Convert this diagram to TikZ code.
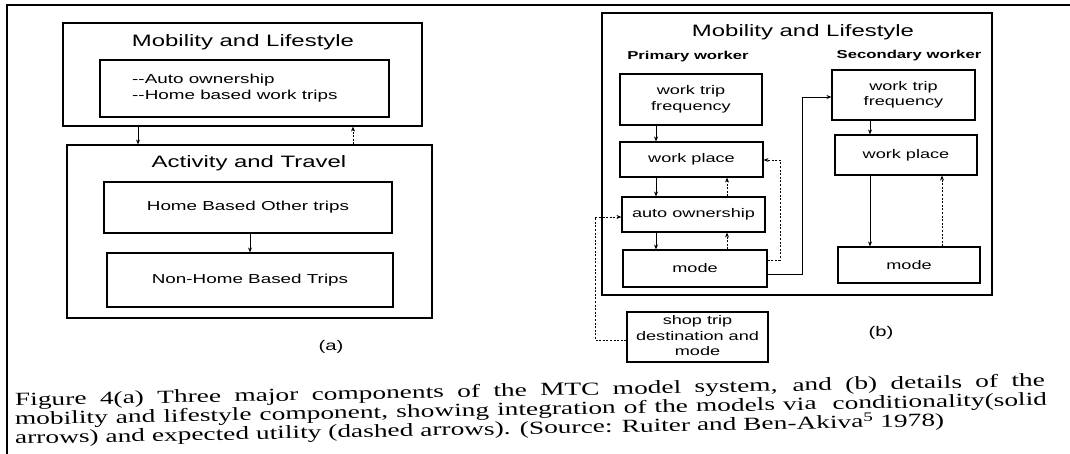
\documentclass[tikz,border=0pt]{standalone}
\usepackage{fontspec}
\setmainfont{Liberation Serif}[FakeStretch=1.48]
\newfontfamily\dsans{Liberation Sans}[FakeStretch=1.45]
\usetikzlibrary{arrows.meta}
\newcommand\tl[1]{\begin{tabular}{@{}c@{}}#1\end{tabular}}
\begin{document}
\begin{tikzpicture}[x=1pt,y=-1pt,
  box/.style={draw, line width=1.1pt, inner sep=0pt, align=center},
  ttl/.style={font=\dsans\fontsize{16.5}{18}\selectfont, inner sep=0pt},
  atxt/.style={font=\dsans\fontsize{13}{16}\selectfont, inner sep=0pt},
  btxt/.style={font=\dsans\fontsize{12.5}{15.5}\selectfont},
  wtxt/.style={font=\dsans\bfseries\fontsize{11.5}{14}\selectfont, inner sep=0pt},
  lbl/.style={font=\dsans\fontsize{14}{16}\selectfont, inner sep=0pt},
  captxt/.style={anchor=base west, inner sep=0pt, rotate=1.1, font=\fontsize{18.5}{19}\selectfont},
  cond/.style={line width=0.9pt, -{Stealth[length=5pt,width=4pt]}},
  util/.style={line width=0.9pt, dash pattern=on 2pt off 1.6pt, -{Stealth[length=5pt,width=4pt]}},
]
\useasboundingbox (0,0) rectangle (1070,454);
\draw[line width=1.6pt] (7,454) -- (7,5) -- (1070,5);

% ---------- (a) ----------
\node[box, minimum width=359pt, minimum height=103pt] (aML) at (242.5,74.5) {};
\node[ttl] (aMLt) at (243,42) {Mobility and Lifestyle};
\node[box, minimum width=289pt, minimum height=57pt] (aIn) at (244.5,88.5) {};
\node[atxt, anchor=west, align=left] (aInt) at (132,88) {--Auto ownership\\--Home based work trips};
\node[box, minimum width=365pt, minimum height=173pt] (aAT) at (249.5,231.5) {};
\node[ttl] (aATt) at (249,163) {Activity and Travel};
\node[box, minimum width=288pt, minimum height=51pt, atxt] (aHB) at (248,207.5) {Home Based Other trips};
\node[box, minimum width=286pt, minimum height=54pt, atxt] (aNH) at (250,280) {Non-Home Based Trips};
\node[lbl] (alab) at (331,347) {(a)};
\coordinate (ca1) at (138,0);
\coordinate (ca2) at (353,0);
\coordinate (ca3) at (250,0);
\draw[cond] (ca1 |- aML.south) -- (ca1 |- aAT.north);
\draw[util] (ca2 |- aAT.north) -- (ca2 |- aML.south);
\draw[cond] (ca3 |- aHB.south) -- (ca3 |- aNH.north);

% ---------- (b) ----------
\node[box, minimum width=390pt, minimum height=282pt] (bML) at (797,154) {};
\node[ttl] (bMLt) at (803,32) {Mobility and Lifestyle};
\node[wtxt] (pw) at (688,57) {Primary worker};
\node[wtxt] (sw) at (909,56) {Secondary worker};
\node[box, btxt, minimum width=142pt, minimum height=51pt] (pWTF) at (691,99.5) {\tl{work trip\\frequency}};
\node[box, btxt, minimum width=143pt, minimum height=35pt] (pWP) at (691.5,159.5) {work place};
\node[box, btxt, minimum width=143pt, minimum height=35pt] (pAO) at (693.5,214.5) {auto ownership};
\node[box, btxt, minimum width=144pt, minimum height=37pt] (pM) at (695,268.5) {mode};
\node[box, btxt, minimum width=143pt, minimum height=50pt] (sWTF) at (903.5,95) {\tl{work trip\\frequency}};
\node[box, btxt, minimum width=142pt, minimum height=40pt] (sWP) at (906,155) {work place};
\node[box, btxt, minimum width=142pt, minimum height=36pt] (sM) at (909,265) {mode};
\node[box, btxt, minimum width=141pt, minimum height=50pt] (shop) at (697.5,337) {\tl{shop trip\\destination and\\mode}};
\node[lbl] (blab) at (881,333) {(b)};

\coordinate (cb1) at (656,0);
\coordinate (cb2) at (727,0);
\coordinate (cb3) at (870,0);
\coordinate (cb4) at (942,0);
\draw[cond] (cb1 |- pWTF.south) -- (cb1 |- pWP.north);
\draw[cond] (cb1 |- pWP.south) -- (cb1 |- pAO.north);
\draw[util] (cb2 |- pAO.north) -- (cb2 |- pWP.south);
\draw[cond] (cb1 |- pAO.south) -- (cb1 |- pM.north);
\draw[util] (cb2 |- pM.north) -- (cb2 |- pAO.south);
\draw[cond] (cb3 |- sWTF.south) -- (cb3 |- sWP.north);
\draw[cond] (cb3 |- sWP.south) -- (cb3 |- sM.north);
\draw[util] (cb4 |- sM.north) -- (cb4 |- sWP.south);

\coordinate (d1) at (780,260);
\coordinate (d2) at (780,160);
\draw[util] (d1 -| pM.east) -- (d1) -- (d2) -- (d2 -| pWP.east);
\coordinate (s1) at (802,274);
\coordinate (s2) at (802,97);
\draw[cond] (s1 -| pM.east) -- (s1) -- (s2) -- (s2 -| sWTF.west);
\coordinate (l1) at (595,340);
\coordinate (l2) at (595,217);
\draw[util] (l1 -| shop.west) -- (l1) -- (l2) -- (l2 -| pAO.west);

% ---------- caption ----------
\node[captxt] (cap1) at (15,406) {\makebox[1030pt][s]{Figure 4(a) Three major components of the MTC model system, and (b) details of the}};
\node[captxt] (cap2) at (15,425) {\makebox[1032pt][s]{mobility and lifestyle component, showing integration of the models via\ \ conditionality(solid}};
\node[captxt] (cap3) at (15,444) {arrows) and expected utility (dashed arrows). (Source: Ruiter and Ben-Akiva\textsuperscript{5} 1978)};
\end{tikzpicture}
\end{document}
